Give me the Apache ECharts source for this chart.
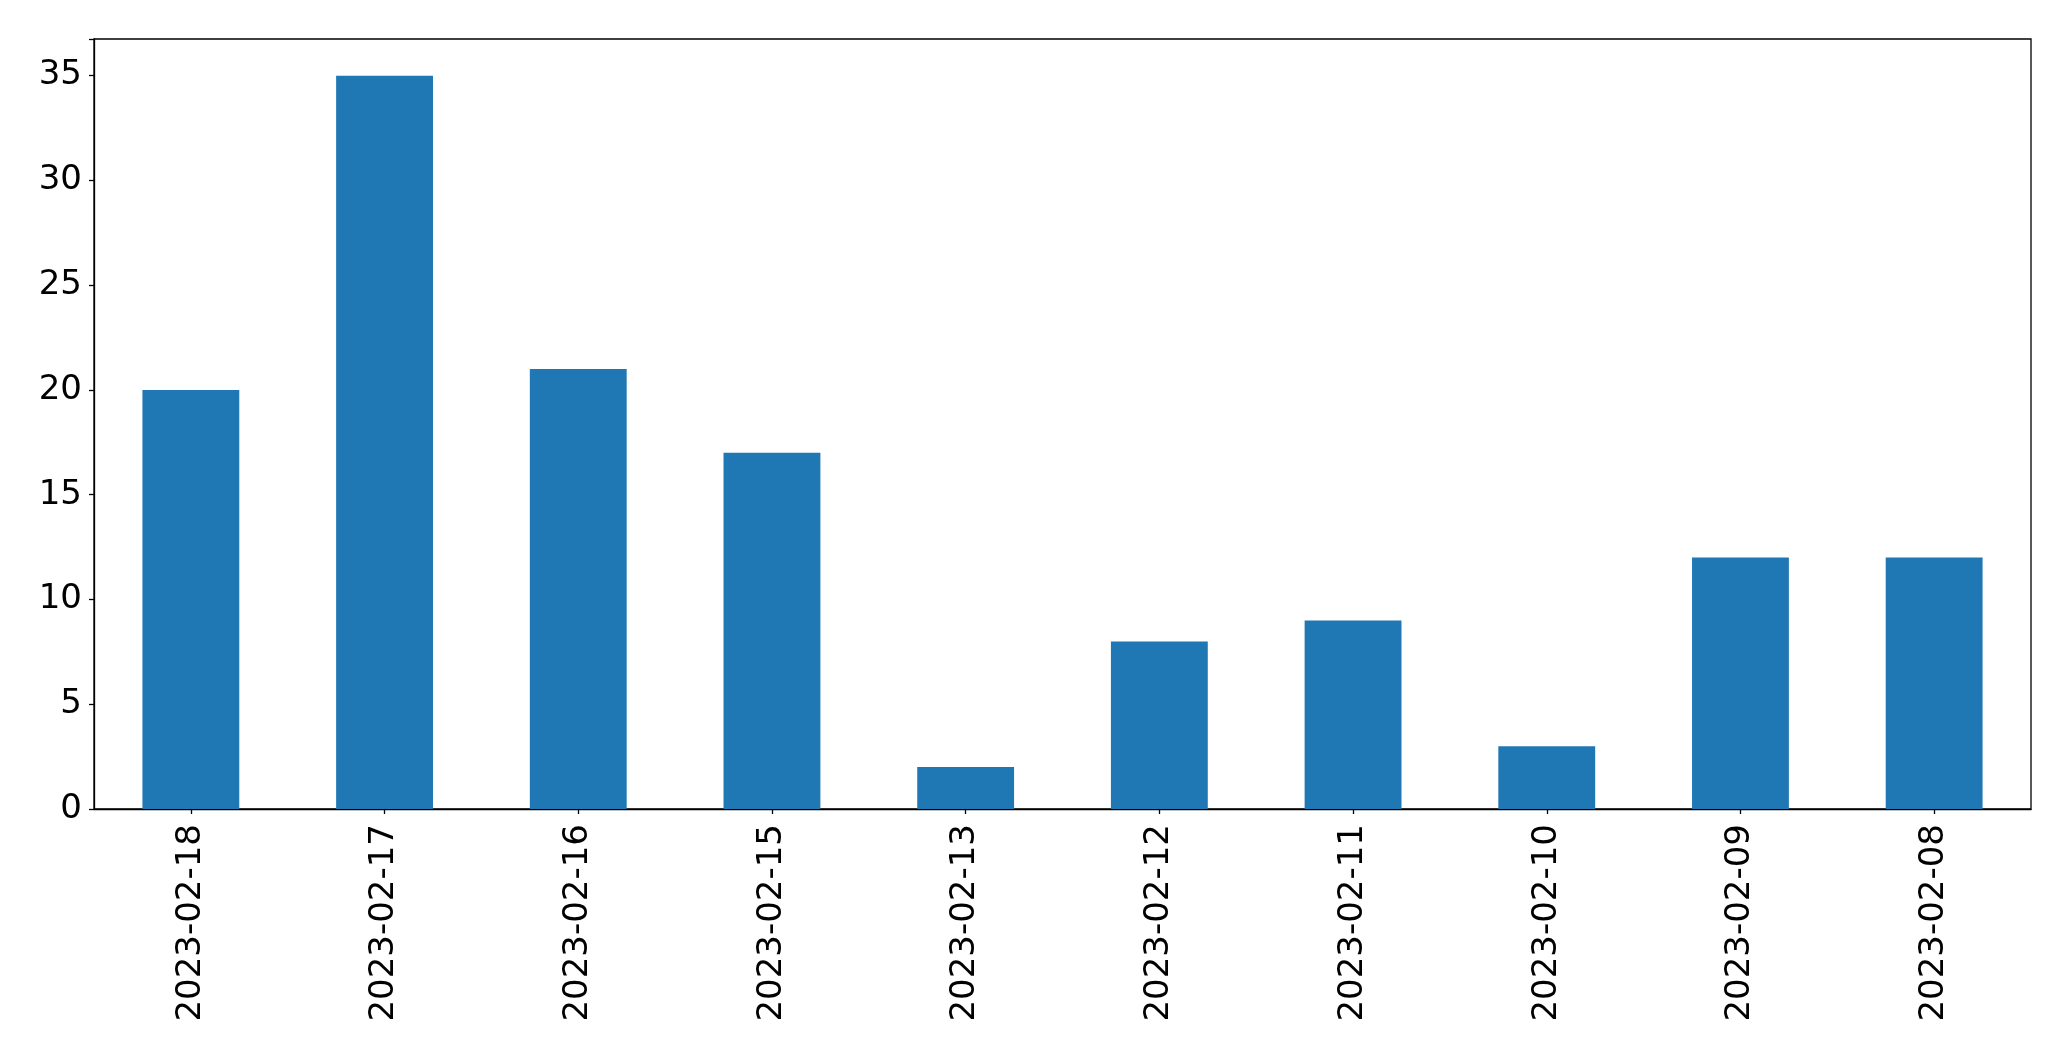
<!DOCTYPE html>
<html>
<head>
<meta charset="utf-8">
<script src="https://cdn.jsdelivr.net/npm/echarts@6/dist/echarts.min.js"></script>
<style>
html,body{margin:0;padding:0;background:#fff;}
#chart{width:2071px;height:1061px;}
</style>
</head>
<body>
<div id="chart"></div>
<script>
const categories = ['2023-02-18','2023-02-17','2023-02-16','2023-02-15','2023-02-13','2023-02-12','2023-02-11','2023-02-10','2023-02-09','2023-02-08'];
const values = [20,35,21,17,2,8,9,3,12,12];
const yTicks = [0,5,10,15,20,25,30,35];

const chart = echarts.init(document.getElementById('chart'), null, {renderer:'canvas'});
const font = 'DejaVu Sans';
chart.setOption({
  animation:false,
  backgroundColor:'#fff',
  grid:{left:94,right:40,top:39,bottom:252,show:true,borderColor:'#000',borderWidth:1.3,backgroundColor:'transparent'},
  xAxis:{
    type:'category',
    data:categories,
    boundaryGap:true,
    axisLine:{show:true,lineStyle:{color:'#000',width:1.3}},
    axisTick:{show:true,alignWithLabel:true,length:5,lineStyle:{color:'#000',width:1.3}},
    axisLabel:{rotate:90,margin:15,color:'#000',fontFamily:font,fontSize:34,interval:0}
  },
  yAxis:{
    type:'value',
    min:0,max:36.75,interval:5,
    axisLine:{show:true,lineStyle:{color:'#000',width:1.3}},
    axisTick:{show:true,length:5,lineStyle:{color:'#000',width:1.3}},
    splitLine:{show:false},
    axisLabel:{margin:12,color:'#000',fontFamily:font,fontSize:34,
      formatter:function(v){return yTicks.indexOf(v)>=0?String(v):'';}}
  },
  series:[{type:'bar',data:values,barWidth:'50%',itemStyle:{color:'#1f77b4'}}]
});
</script>
</body>
</html>
